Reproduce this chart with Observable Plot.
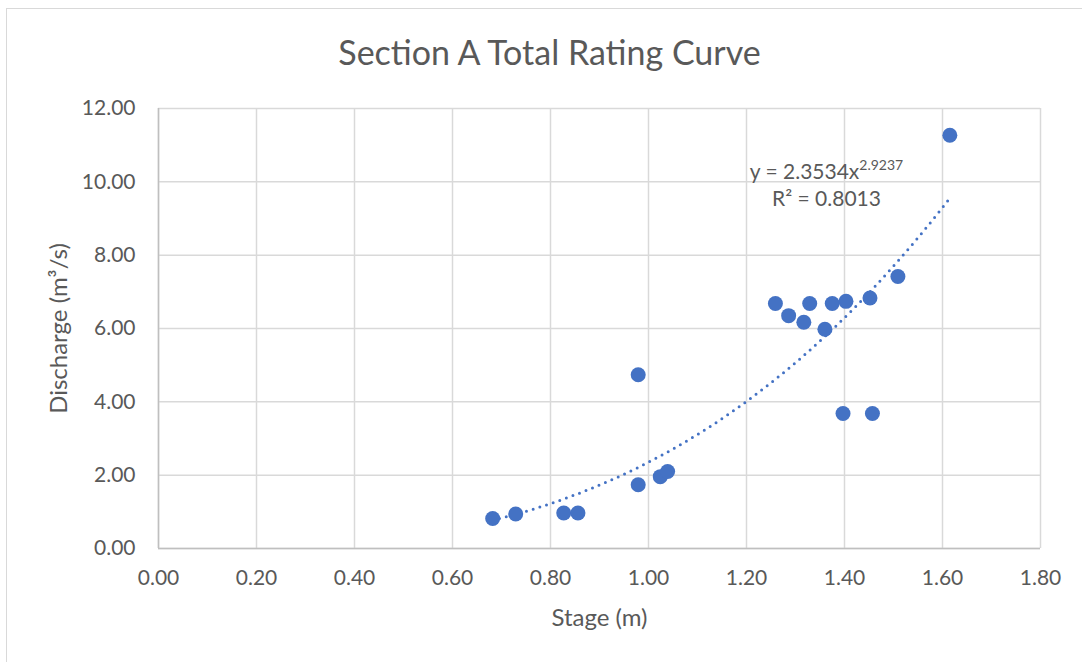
<!DOCTYPE html>
<html>
<head>
<meta charset="utf-8">
<script src="https://cdn.jsdelivr.net/npm/d3@7"></script>
<script src="https://cdn.jsdelivr.net/npm/@observablehq/plot@0.6"></script>
<style>
  html, body { margin: 0; padding: 0; background: #fff; overflow: hidden; }
  #wrap { position: relative; width: 1082px; height: 662px; overflow: hidden; }
  #border { position: absolute; left: 6px; top: 8px; width: 1200px; height: 800px;
            border-left: 1.5px solid #d9d9d9; border-top: 1.5px solid #d9d9d9; }
  #chart { position: absolute; left: 0; top: 0; }
</style>
</head>
<body>
<div id="wrap"><div id="border"></div><div id="chart"></div></div>
<script>
// Data
const stage = [0.682, 0.729, 0.827, 0.856, 0.979, 0.979, 1.024, 1.039, 1.259, 1.286,
               1.317, 1.329, 1.360, 1.375, 1.397, 1.403, 1.452, 1.457, 1.509, 1.615];
const discharge = [0.82, 0.94, 0.97, 0.97, 4.74, 1.74, 1.96, 2.10, 6.68, 6.35,
                   6.17, 6.68, 5.98, 6.68, 3.68, 6.74, 6.83, 3.68, 7.42, 11.27];
const xTicks = [0, 0.2, 0.4, 0.6, 0.8, 1.0, 1.2, 1.4, 1.6, 1.8];
const yTicks = [0, 2, 4, 6, 8, 10, 12];
// Power trendline shown on the chart: y = a x^b
const trendA = 2.3534;
const trendB = 2.9237;
const rSquared = "0.8013";
const titleText = "Section A Total Rating Curve";
const xLabel = "Stage (m)";
const yLabel = "Discharge (m³/s)";

const points = stage.map((s, i) => ({stage: s, q: discharge[i]}));
const xMin = d3.min(stage), xMax = d3.max(stage);
const trend = d3.range(0, 101).map(i => {
  const x = xMin + (xMax - xMin) * i / 100;
  return {stage: x, q: trendA * Math.pow(x, trendB)};
});

const blue = "#4472C4";
const grey = "#595959";
const font = "Lato, 'Noto Sans', sans-serif";

const plot = Plot.plot({
  width: 1082,
  height: 662,
  marginLeft: 158,
  marginRight: 42,
  marginTop: 108,
  marginBottom: 114,
  style: {fontFamily: font, color: grey, background: "transparent", overflow: "visible"},
  x: {domain: [0, 1.8]},
  y: {domain: [0, 12]},
  marks: [
    Plot.gridX(xTicks, {stroke: "#d9d9d9", strokeOpacity: 1, strokeWidth: 1.5}),
    Plot.gridY(yTicks, {stroke: "#d9d9d9", strokeOpacity: 1, strokeWidth: 1.5}),
    Plot.ruleX([0], {stroke: "#bfbfbf", strokeWidth: 1.5}),
    Plot.ruleY([0], {stroke: "#bfbfbf", strokeWidth: 1.5}),
    Plot.axisX(xTicks, {tickSize: 0, tickPadding: 22, tickFormat: d => d.toFixed(2),
                        fontSize: 21, fill: grey, label: null}),
    Plot.axisY(yTicks, {tickSize: 0, tickPadding: 23, tickFormat: d => d.toFixed(2),
                        fontSize: 21, fill: grey, label: null}),
    Plot.line(trend, {x: "stage", y: "q", stroke: blue, strokeWidth: 3,
                      strokeDasharray: "0 7", strokeLinecap: "round"}),
    Plot.dot(points, {x: "stage", y: "q", r: 7.5, fill: blue}),
    Plot.text([titleText], {frameAnchor: "top", dx: -50, dy: -44, lineAnchor: "bottom",
                            textAnchor: "middle", fontSize: 34, fill: grey}),
    Plot.text([xLabel], {frameAnchor: "bottom", dy: 70, lineAnchor: "middle",
                         textAnchor: "middle", fontSize: 24, fill: grey}),
    Plot.text([yLabel], {frameAnchor: "left", dx: -99, rotate: -90, lineAnchor: "middle",
                         textAnchor: "middle", fontSize: 24, fill: grey}),
    Plot.text(["y = " + trendA + "x"], {frameAnchor: "top-left", dx: 826 - 158, dy: 178 - 108,
                         lineAnchor: "bottom", textAnchor: "middle", fontSize: 21, fill: grey}),
    Plot.text(["R² = " + rSquared], {frameAnchor: "top-left", dx: 826 - 158, dy: 205 - 108,
                         lineAnchor: "bottom", textAnchor: "middle", fontSize: 21, fill: grey})
  ]
});

// add superscript exponent to the equation label
d3.select(plot).selectAll("text")
  .filter(function() { return this.textContent === "y = " + trendA + "x"; })
  .each(function() {
    d3.select(this).append("tspan")
      .attr("dy", "-0.6em")
      .attr("font-size", 14)
      .text(String(trendB));
  });

document.getElementById("chart").appendChild(plot);
</script>
</body>
</html>
